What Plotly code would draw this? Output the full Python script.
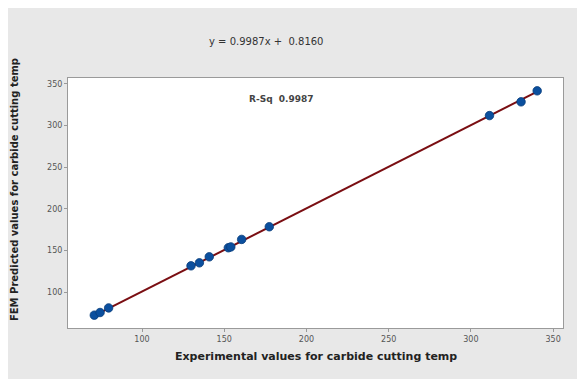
import plotly.graph_objects as go

# Data
experimental = [71.0, 74.5, 79.7, 129.8, 134.9, 140.9, 152.5, 154.0, 160.6, 177.4, 311.3, 330.5, 340.3]
predicted = [72.4, 75.6, 81.1, 131.6, 135.2, 142.4, 153.3, 154.3, 163.3, 178.5, 311.9, 328.4, 341.6]
slope = 0.9987
intercept = 0.8160
r_sq = 0.9987
x_ticks = [100, 150, 200, 250, 300, 350]
y_ticks = [100, 150, 200, 250, 300, 350]

x_min, x_max = min(experimental), max(experimental)
fit_x = [x_min, x_max]
fit_y = [slope * v + intercept for v in fit_x]

font_family = "DejaVu Sans"

fig = go.Figure()
fig.add_trace(go.Scatter(
    x=fit_x, y=fit_y, mode="lines",
    line=dict(color="#7A0E12", width=2),
    showlegend=False, hoverinfo="skip"))
fig.add_trace(go.Scatter(
    x=experimental, y=predicted, mode="markers",
    marker=dict(color="#0B4F9E", size=8.5, line=dict(color="#083C7A", width=0.8)),
    showlegend=False))

axis_common = dict(
    showgrid=False, zeroline=False, showline=True, mirror=True,
    linecolor="#9A9A9A", linewidth=1,
    ticks="outside", ticklen=3, tickcolor="#9A9A9A",
    tickfont=dict(family=font_family, size=8, color="#555555"),
)

fig.update_xaxes(range=[55, 356], tickvals=x_ticks, **axis_common)
fig.update_yaxes(range=[57, 357], tickvals=y_ticks, **axis_common)

annotations = [
    dict(text=f"y = {slope:.4f}x +  {intercept:.4f}", xref="paper", yref="paper",
         x=0.40, y=1.148, showarrow=False, xanchor="center", yanchor="middle",
         font=dict(family=font_family, size=10, color="#333333")),
    dict(text=f"<b>R-Sq  {r_sq:.4f}</b>", xref="paper", yref="paper",
         x=0.432, y=0.916, showarrow=False, xanchor="center", yanchor="middle",
         font=dict(family=font_family, size=9, color="#444444")),
    dict(text="<b>Experimental values for carbide cutting temp</b>", xref="paper", yref="paper",
         x=0.501, y=-0.112, showarrow=False, xanchor="center", yanchor="middle",
         font=dict(family=font_family, size=11, color="#222222")),
    dict(text="<b>FEM Predicted values for carbide cutting temp</b>", xref="paper", yref="paper",
         x=-0.109, y=0.552, showarrow=False, xanchor="center", yanchor="middle",
         textangle=-90,
         font=dict(family=font_family, size=10, color="#222222")),
]

fig.update_layout(
    width=577, height=371,
    margin=dict(l=60, r=22, t=70, b=51),
    paper_bgcolor="#E8E8E8", plot_bgcolor="white",
    annotations=annotations,
    font=dict(family=font_family),
)

fig.write_html("out.html")
